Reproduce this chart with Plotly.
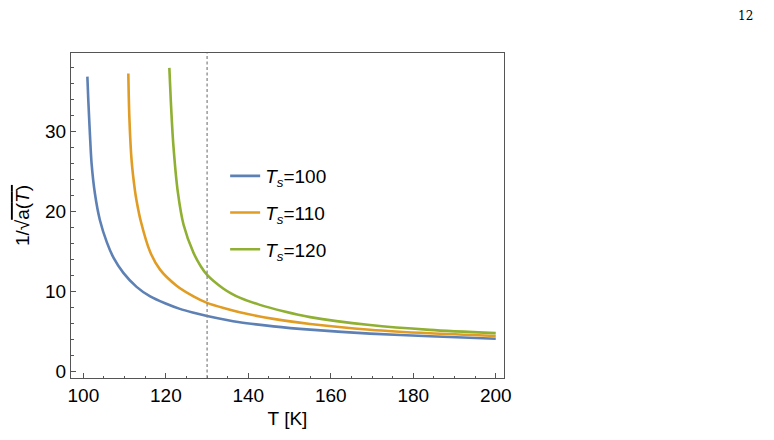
import plotly.graph_objects as go

# Data
t_100 = [100.97, 101.2, 101.6, 102.0, 102.8, 104.0, 105.7, 107.3, 109.7, 112.9, 116.2, 119.8,
         123.4, 126.5, 130.0, 137.9, 146.1, 155.0, 169.5, 184.0, 200.0]
v_100 = [36.8, 33.8, 29.5, 25.9, 22.2, 18.9, 16.1, 14.2, 12.3, 10.55, 9.35, 8.5,
         7.8, 7.35, 6.92, 6.13, 5.62, 5.21, 4.71, 4.38, 4.08]

t_110 = [110.9, 111.15, 111.7, 112.5, 112.9, 113.9, 116.2, 118.6, 122.6, 126.7, 130.0, 134.0,
         137.9, 146.1, 155.0, 169.5, 184.0, 200.0]
v_110 = [37.2, 31.75, 26.3, 22.6, 21.3, 18.8, 14.9, 12.7, 10.7, 9.37, 8.55, 7.9,
         7.38, 6.55, 5.92, 5.2, 4.75, 4.42]

t_120 = [120.85, 121.2, 121.8, 122.9, 124.3, 126.7, 128.5, 130.0, 133.9, 135.8, 137.9, 142.8,
         148.5, 155.0, 169.5, 184.0, 200.0]
v_120 = [37.9, 33.8, 28.4, 22.4, 18.3, 14.8, 13.1, 12.05, 10.35, 9.75, 9.2, 8.3,
         7.5, 6.77, 5.78, 5.18, 4.77]

series_names = ["<i>T<sub>s</sub></i>=100", "<i>T<sub>s</sub></i>=110", "<i>T<sub>s</sub></i>=120"]
colors = ["#5E81B5", "#E19C24", "#8FB032"]
t_marker = 130

x_ticks = [100, 120, 140, 160, 180, 200]
y_ticks = [0, 10, 20, 30]

FONT = "Liberation Sans"

fig = go.Figure()
for i, (tx, vy) in enumerate([(t_100, v_100), (t_110, v_110), (t_120, v_120)]):
    fig.add_trace(go.Scatter(
        x=tx, y=vy, mode="lines", name=series_names[i],
        legendgroup=f"g{i}",
        line=dict(color=colors[i], width=2.6, shape="spline", smoothing=0.8),
    ))

fig.add_vline(x=t_marker, line=dict(color="#808080", width=1.2, dash="3px,2.5px"))

axis_common = dict(
    showgrid=False, zeroline=False, showline=True, mirror=True,
    linecolor="#555555", linewidth=1,
    ticks="inside", ticklen=5, tickcolor="#555555", tickwidth=1,
    tickfont=dict(family=FONT, size=19, color="black"),
)

fig.update_xaxes(
    range=[97.0, 202.0], tickvals=x_ticks,
    minor=dict(dtick=5, ticks="inside", ticklen=2.5, tickcolor="#555555"),
    title=dict(text="T [K]", font=dict(family=FONT, size=19, color="black"), standoff=6),
    **axis_common,
)
fig.update_yaxes(
    range=[-0.83, 39.75], tickvals=y_ticks,
    minor=dict(dtick=2, ticks="inside", ticklen=2.5, tickcolor="#555555"),
    title=dict(text="1/√<span style='text-decoration:overline'>a(<i>T</i>)</span>",
               font=dict(family=FONT, size=19, color="black"), standoff=10),
    **axis_common,
)

fig.add_annotation(
    text="12", xref="paper", yref="paper", x=(737 - 63) / 433, y=1 + (45 - 8) / 324.6,
    xanchor="center", yanchor="middle",
    showarrow=False, font=dict(family="DejaVu Serif", size=12, color="black"),
)

fig.update_layout(
    width=766, height=432,
    margin=dict(l=63, r=270, t=45, b=62),
    paper_bgcolor="white", plot_bgcolor="white",
    legend=dict(
        x=0.356, y=0.68, xanchor="left", yanchor="top",
        font=dict(family=FONT, size=19, color="black"),
        bgcolor="rgba(0,0,0,0)", itemwidth=30, tracegroupgap=9,
    ),
    showlegend=True,
)

fig.write_html("out.html")
